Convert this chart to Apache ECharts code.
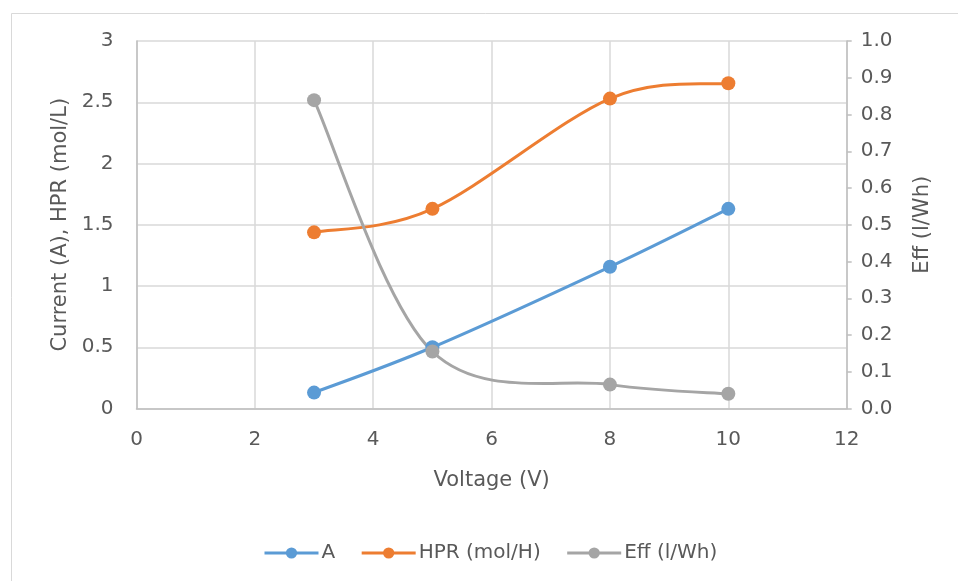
<!DOCTYPE html>
<html>
<head>
<meta charset="utf-8">
<script src="https://cdn.jsdelivr.net/npm/echarts@6/dist/echarts.min.js"></script>
<style>html,body{margin:0;padding:0;background:#fff;}#c{width:958px;height:581px;}</style>
</head>
<body>
<div id="c"></div>
<script>
const voltage = [3, 5, 8, 10];
const currentA = [0.13, 0.50, 1.157, 1.63];
const hpr = [1.438, 1.63, 2.53, 2.655];
const eff = [0.839, 0.155, 0.065, 0.040];

const pairs = (xs, ys) => xs.map((x, i) => [x, ys[i]]);
const FONT = 'DejaVu Sans';
const TXT = '#595959';
const C_A = '#5B9BD5', C_H = '#ED7D31', C_E = '#A5A5A5';

// Spreadsheet-style smoothed line (Catmull-Rom Bezier through the data points,
// positioned with the chart's own axis scales via api.coord).
function smoothCurve(name, xs, ys, yAxisIndex, color, z) {
  return {
    type: 'custom', name: name + ' curve', yAxisIndex: yAxisIndex, z: z,
    data: pairs(xs, ys), encode: {x: 0, y: 1}, silent: true,
    renderItem: function (params, api) {
      if (params.dataIndex !== 0) return null;
      const p = xs.map((x, i) => api.coord([x, ys[i]]));
      let d = 'M' + p[0][0] + ' ' + p[0][1];
      for (let i = 0; i < p.length - 1; i++) {
        const p0 = p[Math.max(i - 1, 0)], p1 = p[i], p2 = p[i + 1], p3 = p[Math.min(i + 2, p.length - 1)];
        const c1 = [p1[0] + (p2[0] - p0[0]) / 6, p1[1] + (p2[1] - p0[1]) / 6];
        const c2 = [p2[0] - (p3[0] - p1[0]) / 6, p2[1] - (p3[1] - p1[1]) / 6];
        d += ' C' + c1[0] + ' ' + c1[1] + ' ' + c2[0] + ' ' + c2[1] + ' ' + p2[0] + ' ' + p2[1];
      }
      return {type: 'path', shape: {pathData: d},
        style: {fill: 'none', stroke: color, lineWidth: 3, lineJoin: 'round', lineCap: 'round'}};
    }
  };
}
function markers(name, xs, ys, yAxisIndex, color, z) {
  return {
    name: name, type: 'line', yAxisIndex: yAxisIndex, z: z,
    data: pairs(xs, ys), symbol: 'circle', symbolSize: 14,
    lineStyle: {color: color, width: 3, opacity: 0},
    itemStyle: {color: color}, color: color
  };
}

const chart = echarts.init(document.getElementById('c'), null, {renderer: 'canvas'});
chart.setOption({
  animation: false,
  backgroundColor: '#fff',
  textStyle: {fontFamily: FONT},
  graphic: [{
    type: 'rect', left: 9, top: 11, silent: true,
    shape: {x: 0, y: 0, width: 1100, height: 700},
    style: {fill: 'none', stroke: '#D9D9D9', lineWidth: 1}
  }],
  grid: {left: 136.5, right: 111.3, top: 41, bottom: 172.5, containLabel: false},
  legend: {
    left: 258, top: 538,
    itemWidth: 54, itemHeight: 14, itemGap: 25,
    textStyle: {fontFamily: FONT, fontSize: 20, color: TXT, padding: [0, 0, 0, -2]},
    data: [
      {name: 'A', lineStyle: {color: C_A, width: 3, opacity: 1}},
      {name: 'HPR (mol/H)', lineStyle: {color: C_H, width: 3, opacity: 1}},
      {name: 'Eff (l/Wh)', lineStyle: {color: C_E, width: 3, opacity: 1}}
    ]
  },
  xAxis: {
    type: 'value', min: 0, max: 12, interval: 2,
    name: 'Voltage (V)', nameLocation: 'middle', nameGap: 62,
    nameTextStyle: {fontFamily: FONT, fontSize: 21, color: TXT},
    axisLine: {show: true, lineStyle: {color: '#BFBFBF', width: 1.5}},
    axisTick: {show: false},
    axisLabel: {fontFamily: FONT, fontSize: 20, color: TXT, margin: 21},
    splitLine: {show: true, lineStyle: {color: '#D9D9D9', width: 1.5}}
  },
  yAxis: [{
    type: 'value', min: 0, max: 3, interval: 0.5,
    name: 'Current (A), HPR (mol/L)', nameLocation: 'middle', nameGap: 61,
    nameTextStyle: {fontFamily: FONT, fontSize: 21, color: TXT},
    axisLine: {show: true, lineStyle: {color: '#BFBFBF', width: 1.5}},
    axisTick: {show: false},
    axisLabel: {fontFamily: FONT, fontSize: 20, color: TXT, margin: 23},
    splitLine: {show: true, lineStyle: {color: '#D9D9D9', width: 1.5}}
  }, {
    type: 'value', min: 0, max: 1, interval: 0.1, position: 'right',
    name: 'Eff (l/Wh)', nameLocation: 'middle', nameGap: 65,
    nameTextStyle: {fontFamily: FONT, fontSize: 21, color: TXT},
    axisLine: {show: true, lineStyle: {color: '#BFBFBF', width: 1.5}},
    axisTick: {show: true, length: 5, lineStyle: {color: '#BFBFBF', width: 1.5}},
    axisLabel: {fontFamily: FONT, fontSize: 20, color: TXT, margin: 14,
      formatter: v => v.toFixed(1)},
    splitLine: {show: false}
  }],
  series: [
    smoothCurve('A', voltage, currentA, 0, C_A, 2),
    smoothCurve('HPR (mol/H)', voltage, hpr, 0, C_H, 2),
    smoothCurve('Eff (l/Wh)', voltage, eff, 1, C_E, 2),
    markers('A', voltage, currentA, 0, C_A, 3),
    markers('HPR (mol/H)', voltage, hpr, 0, C_H, 3),
    markers('Eff (l/Wh)', voltage, eff, 1, C_E, 4)
  ]
});
</script>
</body>
</html>
